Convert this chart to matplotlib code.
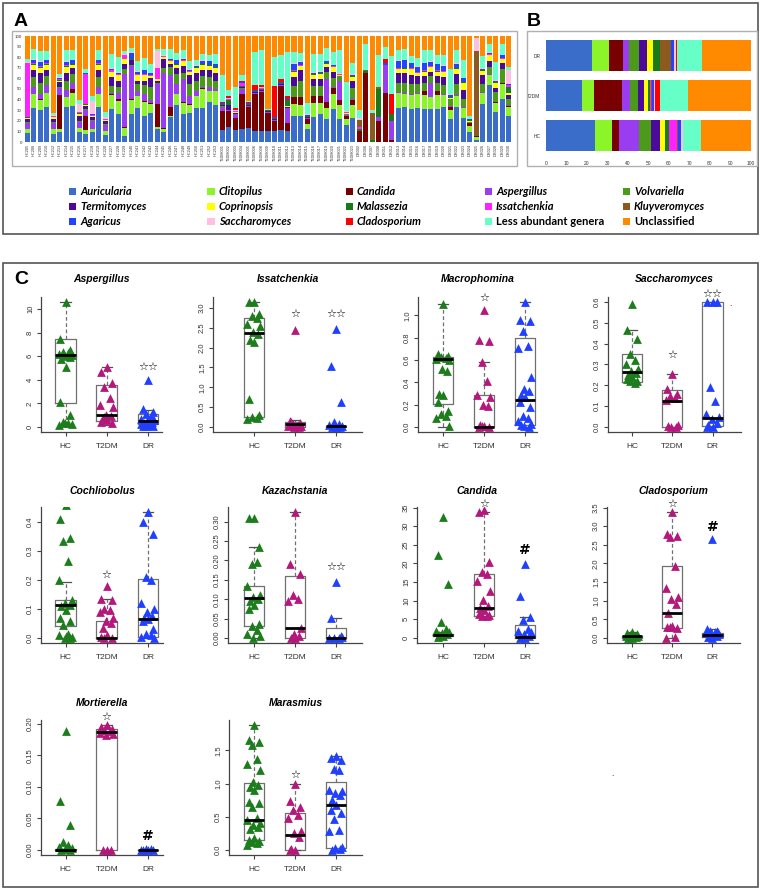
import numpy as np
import matplotlib.pyplot as plt
from matplotlib.patches import Rectangle

plt.rcParams['font.family'] = ['Liberation Sans', 'DejaVu Sans']

# ---------------- panel A / B data ----------------
genera = ['Auricularia', 'Clitopilus', 'Candida', 'Aspergillus', 'Volvariella',
          'Termitomyces', 'Coprinopsis', 'Malassezia', 'Issatchenkia', 'Kluyveromyces',
          'Agaricus', 'Saccharomyces', 'Cladosporium', 'Less abundant genera', 'Unclassified']
colors = ['#3a6cc9', '#8cf52a', '#780000', '#9a3cf0', '#4c9a1a',
          '#4b0a9a', '#ffff00', '#187a18', '#ff22ff', '#8c5a1e',
          '#2244ff', '#ffc0e0', '#ff0000', '#66ffc8', '#ff8a00']

hc_ids = ['HC205', 'HC206', 'HC209', 'HC210', 'HC212', 'HC213', 'HC214', 'HC215', 'HC216', 'HC217',
          'HC218', 'HC219', 'HC220', 'HC227', 'HC228', 'HC229', 'HC240', 'HC241', 'HC242', 'HC243',
          'HC244', 'HC245', 'HC246', 'HC247', 'HC248', 'HC249', 'HC250', 'HC251', 'HC252', 'HC253']
t2dm_ids = ['T2DM001', 'T2DM002', 'T2DM003', 'T2DM004', 'T2DM005', 'T2DM006', 'T2DM008', 'T2DM009',
            'T2DM010', 'T2DM011', 'T2DM012', 'T2DM013', 'T2DM014', 'T2DM015', 'T2DM016', 'T2DM017',
            'T2DM019', 'T2DM020', 'T2DM021', 'T2DM022', 'T2DM023']
dr_ids = ['DR002', 'DR006', 'DR007', 'DR008', 'DR011', 'DR012', 'DR013', 'DR014', 'DR015', 'DR016',
          'DR017', 'DR018', 'DR019', 'DR020', 'DR021', 'DR022', 'DR023', 'DR024', 'DR025', 'DR026',
          'DR027', 'DR028', 'DR029', 'DR030']
samples = hc_ids + t2dm_ids + dr_ids

auricularia = [8.5, 32, 30, 33, 8, 9, 33, 34, 9, 8, 9, 33, 7, 31, 26, 6, 26, 32, 25, 27, 12, 9, 24, 35, 26, 27, 32, 32, 38, 35,
               11, 14, 11, 12, 13, 10, 10, 10, 10, 11, 10, 25, 25, 12, 24, 26, 22, 31, 22, 16, 23,
               0, 0, 0, 0, 0, 0, 32, 33, 31, 32, 31, 31, 31, 33, 22, 33, 23, 10, 2, 36, 54, 28, 41, 25]
clitopilus = [3.5, 13, 10, 13, 4, 3, 9, 12, 4, 3, 3, 12, 3, 13, 13, 7, 14, 11, 13, 9, 2, 3, 1, 10, 11, 8, 11, 18, 10, 13,
              0.5, 0.5, 0.5, 0.5, 0.5, 0.5, 0.5, 0.5, 0.5, 0.5, 0.5, 11, 10, 5, 13, 11, 10, 14, 13, 6, 12,
              0, 0, 0, 0, 0, 0, 14, 12, 13, 13, 13, 11, 13, 11, 8, 10, 9, 5, 3, 10, 9, 9, 14, 8]
candida = [0.5, 0.5, 0.5, 0.5, 0.5, 32, 0.5, 4, 0.5, 14, 0.5, 0.5, 0.5, 1, 2, 1, 0.5, 0.5, 0.5, 0.5, 22, 1, 8, 0.5, 0.5, 0.5, 0.5, 0.5, 0.5, 0.5,
           17.5, 14.5, 11.5, 32.5, 19.5, 35, 37, 17, 9.5, 41.5, 7.5, 6, 7, 5, 6, 6, 6, 6, 5, 3, 5,
           10, 65, 0, 20, 46, 2, 0.5, 0.5, 0.5, 0.5, 4, 0.5, 4, 0.5, 3, 0.5, 0.5, 3, 0.5, 0.5, 0.5, 0.5, 0.5, 1]
aspergillus = [5, 6.5, 5, 7, 5.5, 7, 6.5, 6, 5.5, 5, 7, 6.5, 5.5, 1, 5, 50, 31.5, 4.5, 6.5, 3.5, 19, 52, 30, 9.5, 21.5, 7.5, 4.5, 1.5, 3.5, 1.5,
               4, 1, 3, 5, 0.5, 0.5, 0.5, 0.5, 0.5, 0.5, 14, 0.5, 0.5, 0.5, 0.5, 0.5, 21, 0.5, 18, 0.5, 0.5,
               0, 0, 0, 4, 27, 18, 1, 0.5, 1, 0.5, 0.5, 13, 0.5, 0.5, 0.5, 0.5, 0.5, 0.5, 0, 0.5, 0.5, 0.5, 0.5, 0.5]
volvariella = [1, 9, 10, 8.5, 1, 1, 9, 8, 1, 1, 1, 9, 1, 7, 6, 5, 1, 7, 9, 12, 1, 5, 8, 9, 6, 12, 10, 10, 9, 8,
               0.5, 0.5, 0.5, 0.5, 0.5, 0.5, 0.5, 0.5, 0.5, 0.5, 0.5, 10, 15, 0.5, 9, 9, 7, 9, 4, 0.5, 10,
               0, 0, 0, 0, 0, 0, 8, 10, 9, 9, 7, 7, 7, 9, 7, 11, 8, 0.5, 0, 8, 7, 9, 13, 6]
termitomyces = [3, 7, 10, 6, 3, 5, 7, 6, 5, 3, 3, 7, 3, 8, 6, 5, 4, 3, 4, 8, 2, 8, 3, 6, 7, 8, 7, 6, 7, 7,
                1, 4, 1, 1, 0.5, 0.5, 0.5, 0.5, 0.5, 0.5, 0.5, 9, 10, 0.5, 7, 7, 5, 6, 0.5, 0.5, 7,
                0, 0, 0, 0, 0, 0, 10, 9, 9, 7, 7, 4, 7, 7, 0.5, 9, 8, 0.5, 0, 8, 5, 4, 6, 4]
coprinopsis = [1.5, 5, 4.5, 5, 1.5, 1, 6, 3, 1.5, 1, 1, 5, 0.5, 5, 5, 4, 0.5, 5, 5, 2, 1, 2, 2, 3, 4, 3, 5, 5, 4, 5,
               0.5, 0.5, 0.5, 0.5, 0.5, 0.5, 0.5, 0.5, 0.5, 0.5, 0.5, 5, 4, 0.5, 4, 5, 3, 4, 0.5, 0.5, 4,
               0, 0, 0, 0, 0, 0, 3, 4, 5, 3, 4, 4, 4, 5, 0.5, 5, 7, 0.5, 0, 4, 6, 5, 3, 2]
malassezia = [0.5] * 30 + \
             [0.5, 5, 0.5, 0.5, 0.5, 0.5, 0.5, 0.5, 0.5, 0.5, 6, 0.5, 0.5, 0.5, 0.5, 0.5, 0.5, 0.5, 0.5, 0.5, 0.5] + \
             [2, 2, 2, 26, 0, 6, 0.5, 0.5, 0.5, 0.5, 0.5, 0.5, 0.5, 0.5, 0.5, 0.5, 0.5, 0.5, 0.5, 0.5, 0.5, 0.5, 0.5, 5]
issatchenkia = [51, 1, 1, 1, 0.5, 1, 1, 0.5, 1, 29, 0.5, 1, 0.5, 1, 1, 3.5, 0.5, 1, 1, 1, 10, 0.5, 0.5, 0.5, 1, 0.5, 0.5, 0.5, 0.5, 0.5,
                0.5, 0.5, 0.5, 3.5, 0.5, 0.5, 0.5, 0, 0.5, 0.5, 0.5, 0.5, 0.5, 0.5, 0.5, 0.5, 0.5, 0.5, 0.5, 0.5, 0.5,
                2, 0, 0, 0, 0, 0, 0.5, 0.5, 0.5, 0.5, 0.5, 0.5, 0.5, 0.5, 0.5, 0.5, 0.5, 0.5, 0, 0.5, 0.5, 0.5, 0.5, 2]
kluyveromyces = [0] * 30 + [0] * 21 + \
                [7, 1, 25, 2, 0, 0, 0, 0, 0, 0, 0, 0, 0, 0, 0, 0, 0, 0, 80, 0, 0, 0, 0, 0]
agaricus = [0.5, 3, 4, 2.5, 0.5, 1, 3, 3, 0.5, 0.5, 0.5, 2.5, 0.5, 1.5, 1, 0.5, 5.5, 2, 3, 1.5, 0.5, 0.5, 1, 3, 1, 1, 1, 2.5, 3, 2.5,
            0.5, 0.5, 0.5, 0.5, 0.5, 0.5, 0.5, 0, 0.5, 0.5, 0.5, 6.5, 3, 0.5, 1, 1, 1, 1, 0.5, 0.5, 1,
            0, 0, 0, 0, 2, 0, 7, 7, 5, 5, 7, 4, 6, 5, 2, 4, 3, 0.5, 0, 1, 1, 1, 3, 1]
saccharomyces = [0.5, 0.5, 0.5, 0.5, 0.5, 0.5, 0.5, 0.5, 7, 0.5, 13, 0.5, 2, 0.5, 0.5, 0.5, 0.5, 0.5, 0.5, 0.5, 16, 0.5, 0.5, 0.5, 0.5, 0.5, 0.5, 0.5, 0.5, 0.5,
                 0.5, 0.5, 0.5, 0.5, 0.5, 0.5, 0.5, 0, 0.5, 0.5, 0.5, 0.5, 0.5, 0.5, 0.5, 0.5, 0.5, 0.5, 0.5, 0.5, 0.5,
                 1.5, 0, 0, 0, 0, 0, 0.5, 0.5, 0.5, 0.5, 0.5, 0.5, 0.5, 0.5, 0.5, 0.5, 0.5, 0.5, 12, 0.5, 0.5, 0.5, 0.5, 13]
cladosporium = [0] * 30 + \
               [0.5, 2, 2.5, 0.5, 0.5, 4, 2.5, 0, 29, 2, 2.5, 0, 0, 0, 0, 0, 0, 0, 0, 0, 0] + \
               [0, 0, 0, 0, 3, 19, 0, 0, 0, 0, 0, 0, 0, 0, 0, 0, 0, 0, 0, 0, 0, 0, 0, 0]
less_abundant = [3, 10, 10, 8, 1.5, 3, 11, 9, 4, 3, 4, 9, 4, 13.5, 14, 3, 4, 9, 11, 8.5, 2, 6, 9, 6.5, 8, 7.5, 5, 6, 6, 9,
                 26, 6, 19, 5.5, 1, 31, 33, 1, 27, 23, 41, 10.5, 8, 10.5, 17, 16, 12, 12, 22, 28, 11,
                 8, 24, 3, 30, 12, 36, 10, 10, 6, 8, 12, 11, 8, 10, 24, 12, 17, 3, 0, 12, 8, 17, 10, 3]
unclassified = [21.5, 12, 14, 14.5, 73, 36, 13, 13.5, 60.5, 31.5, 57, 13.5, 72, 17, 20, 14, 11.5, 24, 21, 26, 12, 12, 12.5, 16, 13, 24, 22.5, 17, 17.5, 17,
                36.5, 50.5, 48.5, 37, 61.5, 15.5, 13, 69, 20, 18, 15.5, 15, 16, 63.5, 17, 17, 11.5, 15, 13, 43, 25,
                69.5, 8, 70, 18, 10, 19, 13, 12.5, 19, 20.5, 13, 13, 18, 17.5, 31, 13.5, 22.5, 76, 2, 18.5, 7.5, 24.5, 7.5, 29.5]

abund = np.array([auricularia, clitopilus, candida, aspergillus, volvariella, termitomyces,
                  coprinopsis, malassezia, issatchenkia, kluyveromyces, agaricus, saccharomyces,
                  cladosporium, less_abundant, unclassified], dtype=float)
abund = abund / abund.sum(axis=0) * 100   # relative abundance per sample

# group means for panel B
hc_mean = [24, 8.5, 3, 10, 6, 4, 2.5, 2, 4, 0.2, 1.5, 1, 0.3, 8.5, 24.5]
t2dm_mean = [17.5, 6, 13.5, 4, 4, 3, 2, 1, 0.5, 0.3, 1, 0.5, 2.5, 13.5, 30.7]
dr_mean = [22.5, 8.5, 6.5, 3, 5, 4, 3, 3, 0.3, 5, 1.5, 1, 0.7, 12, 24]

# ---------------- panel C data ----------------
asp_hc = [10.6, 7.5, 6.5, 6.4, 6.3, 6.2, 6.1, 6.0, 5.9, 5.8, 5.1, 2.1, 1.05, 0.4, 0.3, 0.2, 0.25, 0.35]
asp_t2dm = [5.1, 4.7, 3.7, 3.4, 2.5, 1.9, 1.7, 1.0, 0.9, 0.8, 0.6, 0.4, 0.3, 0.85]
asp_dr = [3.95, 1.5, 1.3, 1.1, 0.9, 0.7, 0.6, 0.5, 0.4, 0.3, 0.2, 0.1, 0.1, 0.05, 0.15, 0.25]
asp_box = [(0.2, 2.0, 6.1, 7.45, 10.6), (0.15, 0.55, 1.0, 3.6, 5.1), (0.0, 0.25, 0.5, 1.1, 1.45)]

iss_hc = [3.15, 3.15, 2.85, 2.8, 2.75, 2.6, 2.55, 2.4, 2.35, 2.2, 2.15, 0.7, 0.3, 0.25, 0.22, 0.2]
iss_t2dm = [2.45, 0.15, 0.1, 0.08, 0.05, 0.03, 0.02, 0.01, 0.0, 0.12]
iss_dr = [2.48, 1.53, 0.63, 0.12, 0.08, 0.05, 0.03, 0.02, 0.01, 0.0, 0.0]
iss_box = [(0.2, 0.25, 2.38, 2.75, 3.15), (0.0, 0.0, 0.08, 0.12, 0.18), (0.0, 0.0, 0.02, 0.03, 0.06)]

mac_hc = [1.1, 0.65, 0.64, 0.63, 0.62, 0.61, 0.6, 0.52, 0.5, 0.3, 0.29, 0.22, 0.14, 0.12, 0.1, 0.08, 0.01]
mac_t2dm = [1.05, 0.78, 0.77, 0.58, 0.41, 0.29, 0.27, 0.2, 0.19, 0.02, 0.01, 0.0, 0.0, 0.01]
mac_dr = [1.12, 0.96, 0.95, 0.86, 0.73, 0.71, 0.45, 0.34, 0.32, 0.29, 0.27, 0.22, 0.18, 0.1, 0.08, 0.05, 0.03, 0.01, 0.0, 0.02]
mac_box = [(0.0, 0.21, 0.61, 0.63, 1.1), (0.0, 0.0, 0.0, 0.29, 0.58), (0.0, 0.02, 0.24, 0.8, 1.12)]

sac_hc = [0.59, 0.465, 0.42, 0.35, 0.32, 0.3, 0.28, 0.27, 0.26, 0.25, 0.24, 0.23, 0.22, 0.22, 0.21]
sac_t2dm = [0.255, 0.18, 0.16, 0.15, 0.14, 0.13, 0.01, 0.0, 0.0, 0.005]
sac_dr = [0.6, 0.6, 0.6, 0.19, 0.125, 0.06, 0.05, 0.04, 0.02, 0.01, 0.0, 0.0]
sac_box = [(0.21, 0.215, 0.262, 0.348, 0.465), (0.0, 0.0, 0.127, 0.178, 0.255), (0.0, 0.005, 0.045, 0.598, 0.6)]

coc_hc = [0.46, 0.41, 0.345, 0.335, 0.265, 0.2, 0.13, 0.12, 0.115, 0.11, 0.095, 0.07, 0.06, 0.045, 0.015, 0.01, 0.005, 0.0, 0.0]
coc_t2dm = [0.18, 0.135, 0.13, 0.1, 0.095, 0.09, 0.07, 0.06, 0.05, 0.035, 0.01, 0.005, 0.0, 0.0]
coc_dr = [0.435, 0.4, 0.36, 0.21, 0.2, 0.12, 0.1, 0.09, 0.075, 0.07, 0.065, 0.06, 0.03, 0.015, 0.01, 0.005, 0.0]
coc_box = [(0.0, 0.042, 0.113, 0.13, 0.195), (0.0, 0.0, 0.0, 0.06, 0.135), (0.0, 0.003, 0.065, 0.205, 0.435)]

kaz_hc = [0.31, 0.31, 0.235, 0.19, 0.195, 0.135, 0.11, 0.105, 0.1, 0.095, 0.085, 0.075, 0.035, 0.03, 0.02, 0.01, 0.005, 0.0]
kaz_t2dm = [0.325, 0.19, 0.165, 0.11, 0.1, 0.095, 0.025, 0.01, 0.005, 0.0, 0.0]
kaz_dr = [0.145, 0.052, 0.005, 0.0, 0.0, 0.0, 0.003]
kaz_box = [(0.0, 0.03, 0.104, 0.135, 0.235), (0.0, 0.0, 0.025, 0.16, 0.325), (0.0, 0.0, 0.0, 0.027, 0.052)]

can_hc = [32.5, 22.3, 14.5, 4.4, 2.5, 1.8, 1.5, 1.2, 1.0, 0.8, 0.5, 0.3]
can_t2dm = [34.3, 33.8, 20.3, 17.8, 17.2, 15.3, 12.5, 10.2, 8.5, 8.0, 7.5, 6.5, 6.2, 6.0, 5.8]
can_dr = [19.8, 11.2, 5.5, 4.8, 2.5, 2.0, 1.5, 1.0, 0.5, 0.2, 0.1, 0.0]
can_box = [(0.3, 0.6, 0.85, 1.0, 1.5), (5.8, 6.0, 8.1, 17.3, 33.8), (0.0, 0.1, 0.25, 3.6, 5.5)]

cla_hc = [0.15, 0.12, 0.1, 0.08, 0.06, 0.05, 0.04, 0.03, 0.02, 0.01, 0.0]
cla_t2dm = [3.38, 2.8, 2.75, 2.7, 1.93, 1.33, 1.1, 1.05, 0.92, 0.67, 0.32, 0.3, 0.28, 0.3, 0.02, 0.01]
cla_dr = [2.65, 0.25, 0.2, 0.18, 0.15, 0.12, 0.1, 0.08, 0.05, 0.03, 0.01]
cla_box = [(0.0, 0.01, 0.04, 0.06, 0.15), (0.0, 0.28, 0.66, 1.92, 3.38), (0.0, 0.03, 0.07, 0.13, 0.25)]

mor_hc = [0.188, 0.077, 0.04, 0.012, 0.008, 0.005, 0.003, 0.001, 0.0, 0.0]
mor_t2dm = [0.198, 0.195, 0.192, 0.19, 0.188, 0.186, 0.184, 0.182, 0.0, 0.0, 0.0]
mor_dr = [0.0, 0.0, 0.0, 0.001, 0.002, 0.0]
mor_box = [(0.0, 0.0, 0.0005, 0.001, 0.002), (0.0, 0.0, 0.187, 0.191, 0.198), (0.0, 0.0, 0.0, 0.0005, 0.001)]

mar_hc = [1.88, 1.65, 1.62, 1.58, 1.37, 1.3, 1.2, 1.02, 0.98, 0.95, 0.9, 0.72, 0.7, 0.65, 0.48, 0.45, 0.4,
          0.37, 0.35, 0.32, 0.18, 0.15, 0.13, 0.12, 0.1, 0.08]
mar_t2dm = [1.0, 0.74, 0.65, 0.6, 0.52, 0.48, 0.28, 0.25, 0.2, 0.02, 0.0, 0.0]
mar_dr = [1.42, 1.38, 1.35, 1.22, 1.2, 0.9, 0.88, 0.85, 0.82, 0.75, 0.68, 0.6, 0.55, 0.47, 0.3, 0.28, 0.05, 0.03, 0.01, 0.0]
mar_box = [(0.08, 0.15, 0.45, 1.01, 1.88), (0.0, 0.0, 0.22, 0.56, 1.0), (0.0, 0.03, 0.67, 1.03, 1.42)]

panel_titles = ['Aspergillus', 'Issatchenkia', 'Macrophomina', 'Saccharomyces', 'Cochliobolus',
                'Kazachstania', 'Candida', 'Cladosporium', 'Mortierella', 'Marasmius']
panel_points = [(asp_hc, asp_t2dm, asp_dr), (iss_hc, iss_t2dm, iss_dr), (mac_hc, mac_t2dm, mac_dr),
                (sac_hc, sac_t2dm, sac_dr), (coc_hc, coc_t2dm, coc_dr), (kaz_hc, kaz_t2dm, kaz_dr),
                (can_hc, can_t2dm, can_dr), (cla_hc, cla_t2dm, cla_dr), (mor_hc, mor_t2dm, mor_dr),
                (mar_hc, mar_t2dm, mar_dr)]
panel_boxes = [asp_box, iss_box, mac_box, sac_box, coc_box, kaz_box, can_box, cla_box, mor_box, mar_box]
# significance marks (T2DM, DR) and their heights
panel_sig = [('', '☆☆'), ('☆', '☆☆'), ('☆', ''), ('☆', '☆☆'), ('☆', ''),
             ('', '☆☆'), ('☆', '#'), ('☆', '#'), ('☆', '#'), ('☆', '')]
panel_sig_y = [(0, 5.1), (2.85, 2.85), (1.16, 0), (0.345, 0.64), (0.22, 0),
               (0, 0.183), (36.1, 23.7), (3.59, 2.97), (0.2116, 0.022), (1.135, 0)]
ytick_step = [2, 0.5, 0.2, 0.1, 0.1, 0.05, 5, 0.5, 0.05, 0.5]
ytick_dec = [0, 1, 1, 1, 1, 2, 0, 1, 2, 1]
groups = ['HC', 'T2DM', 'DR']
group_colors = ['#1d7d1d', '#b4187c', '#2040ff']

# ---------------- figure ----------------
W, H = 762, 890
fig = plt.figure(figsize=(W / 100, H / 100), dpi=100)


def px_axes(l, t, r, b):
    return fig.add_axes([l / W, 1 - b / H, (r - l) / W, (b - t) / H])


def px_rect(l, t, r, b, **kw):
    fig.patches.append(Rectangle((l / W, 1 - b / H), (r - l) / W, (b - t) / H,
                                 transform=fig.transFigure, **kw))


def fig_text(x, y, s, **kw):
    fig.text(x / W, 1 - y / H, s, **kw)


# outer frames
px_rect(3, 3, 758, 234, fill=False, edgecolor='#555555', linewidth=1.2)
px_rect(3, 263, 758, 887, fill=False, edgecolor='#555555', linewidth=1.2)
px_rect(12, 31, 517, 166, fill=False, edgecolor='#b0b0b0', linewidth=1)
px_rect(527, 31, 757, 166, fill=False, edgecolor='#b0b0b0', linewidth=1)

fig_text(21, 21, 'A', fontsize=14, fontweight='bold', ha='center', va='center')
fig_text(534, 21, 'B', fontsize=14, fontweight='bold', ha='center', va='center')
fig_text(21, 279, 'C', fontsize=14, fontweight='bold', ha='center', va='center')

# panel A: stacked bars per sample
axA = px_axes(24, 36, 512, 142)
x = np.arange(len(samples))
bottom = np.zeros(len(samples))
for g in range(len(genera)):
    axA.bar(x, abund[g], 0.78, bottom=bottom, color=colors[g], linewidth=0)
    bottom += abund[g]
axA.set_xlim(-0.5, len(samples) - 0.5)
axA.set_ylim(0, 100)
axA.set_xticks(x)
axA.set_xticklabels(samples, rotation=90, fontsize=2.8, color='#333333')
axA.set_yticks(range(0, 101, 10))
axA.set_yticklabels([str(v) for v in range(0, 101, 10)], fontsize=3.2, color='#333333')
axA.tick_params(length=0, pad=1.5)
for s in axA.spines.values():
    s.set_visible(False)

# panel B: group means
axB = px_axes(545.7, 35.5, 751, 155.5)
left = np.zeros(3)
for g in range(len(genera)):
    vals = np.array([hc_mean[g], t2dm_mean[g], dr_mean[g]])
    axB.barh([0, 1, 2], vals, 0.775, left=left, color=colors[g], linewidth=0)
    left += vals
axB.set_xlim(0, 100)
axB.set_ylim(-0.5, 2.5)
axB.set_yticks([0, 1, 2])
axB.set_yticklabels(['HC', 'T2DM', 'DR'], fontsize=3.5, color='#333333')
axB.set_xticks(range(0, 101, 10))
axB.set_xticklabels([str(v) for v in range(0, 101, 10)], fontsize=3.5, color='#333333')
axB.tick_params(length=0, pad=4)
for s in axB.spines.values():
    s.set_visible(False)

# legend
leg_cols = [72, 211, 349, 488, 626]
leg_rows = [191, 206, 221]
for i, name in enumerate(genera):
    r, c = divmod(i, 5)
    cx, cy = leg_cols[c], leg_rows[r]
    px_rect(cx - 3.5, cy - 3.5, cx + 3.5, cy + 3.5, facecolor=colors[i], edgecolor='none')
    fig_text(cx + 8, cy + 0.5, name, fontsize=8, fontweight='bold', family='Lato',
             fontstyle='italic' if i < 13 else 'normal', ha='left', va='center')

# panel C: box plots
col_g1 = [65.5, 254, 443, 632]
col_g3 = [148, 336, 525, 712.5]
row_tb = [(297, 432), (507, 643), (720, 855)]
title_y = [279, 491, 703]
lefts = [41, 213, 418, 608, 41, 228, 417, 607, 41, 229]
rights = [162, 362, 537, 741, 163, 362, 538, 740, 163, 362]
jit = np.array([0.0, -0.13, 0.12, -0.06, 0.07, -0.16, 0.15, -0.02, 0.1, -0.1])

for k, title in enumerate(panel_titles):
    row, col = divmod(k, 4)
    top, bot = row_tb[row]
    ax = px_axes(lefts[k], top, rights[k], bot)
    u = (col_g3[col] - col_g1[col]) / 2
    ax.set_xlim(1 + (lefts[k] - col_g1[col]) / u, 3 + (rights[k] - col_g3[col]) / u)
    ymax = max(b[4] for b in panel_boxes[k])
    ax.set_ylim(-0.04 * ymax, 1.04 * ymax)

    stats = [dict(whislo=b[0], q1=b[1], med=b[2], q3=b[3], whishi=b[4]) for b in panel_boxes[k]]
    ax.bxp(stats, positions=[1, 2, 3], widths=0.5, showfliers=False, capwidths=0.25,
           boxprops=dict(color='#707070', linewidth=0.9),
           whiskerprops=dict(color='#707070', linewidth=0.9, linestyle=(0, (3, 2))),
           capprops=dict(color='#505050', linewidth=0.9),
           medianprops=dict(color='black', linewidth=2.0, zorder=4))
    for gi, pts in enumerate(panel_points[k]):
        pts = np.asarray(pts)
        xs = gi + 1 + jit[np.arange(len(pts)) % len(jit)]
        ax.scatter(xs, pts, marker='^', s=40, color=group_colors[gi], linewidths=0, zorder=3)
    for gi, (mark, my) in enumerate(zip(panel_sig[k], panel_sig_y[k])):
        if mark:
            ax.text(gi + 2, my, mark, ha='center', va='center', color='black',
                    fontsize=10 if mark == '#' else 8, fontweight='bold',
                    family='DejaVu Sans', clip_on=False)

    step = ytick_step[k]
    ticks = np.arange(0, 1.04 * ymax + 1e-9, step)
    ax.set_yticks(ticks)
    ax.set_yticklabels([f'{t:.{ytick_dec[k]}f}' for t in ticks], rotation=90, va='center',
                       fontsize=5.5, color='#333333')
    ax.set_xticks([1, 2, 3])
    ax.set_xticklabels(groups, fontsize=6, color='#333333')
    ax.tick_params(length=3, width=0.8, color='#444444', pad=2)
    ax.tick_params(axis='x', pad=5)
    for s in ['top', 'right']:
        ax.spines[s].set_visible(False)
    for s in ['left', 'bottom']:
        ax.spines[s].set_color('#444444')
        ax.spines[s].set_linewidth(0.9)
    ax.set_facecolor('none')
    cx = (lefts[k] + rights[k]) / 2
    fig_text(cx, title_y[row], title, fontsize=7.5, fontweight='bold', fontstyle='italic',
             ha='center', va='center')

# stray dots present in the original
fig_text(730, 305, '.', fontsize=6, ha='center', va='center')
fig_text(612, 774, '.', fontsize=6, ha='center', va='center')

fig.savefig('out.png', dpi=100)
